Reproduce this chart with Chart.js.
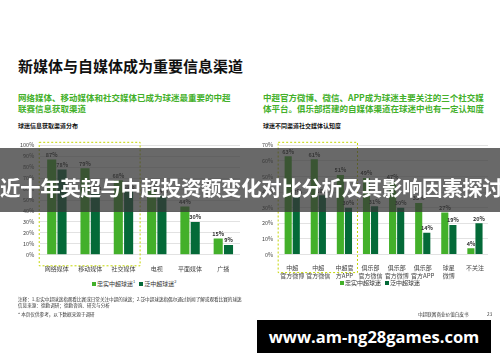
<!DOCTYPE html>
<html>
<head>
<meta charset="utf-8">
<script src="https://cdn.jsdelivr.net/npm/chart.js@4/dist/chart.umd.min.js"></script>
<style>
  html, body { margin: 0; padding: 0; background: #fff; }
  body { width: 500px; height: 362px; position: relative; overflow: hidden; font-family: "Noto Sans CJK SC", "Noto Sans", sans-serif; }
  .abs { position: absolute; white-space: nowrap; }
  .title { left: 18px; top: 55px; font-size: 15px; font-weight: bold; color: #111; }
  .sub { font-size: 8.5px; font-weight: bold; color: #43B02A; line-height: 10.5px; }
  .ctitle { font-size: 6px; font-weight: bold; color: #111; }
  .legend { font-size: 6px; color: #333; }
  .legend i { display: inline-block; width: 4px; height: 4px; margin: 0 1px 1px 4px; vertical-align: middle; }
  .note { font-size: 4.6px; color: #333; line-height: 6px; }
  .banner { left: 0; top: 148px; width: 500px; height: 64px; background: rgba(55,55,55,0.75); }
  .btext { left: 0; top: 172px; width: 500px; text-align: center; font-size: 20.5px; font-weight: bold; color: #fff; letter-spacing: -0.4px; }
  .url { left: 257px; top: 320px; width: 234px; height: 33px; background: #000; color: #fff; font-family: "Open Sans", "DejaVu Sans", sans-serif; font-weight: bold; font-size: 16.5px; text-align: center; line-height: 33px; }
  .wrap { position: absolute; }
</style>
</head>
<body>
<div class="abs title">新媒体与自媒体成为重要信息渠道</div>
<div class="abs sub" style="left:18px;top:92px;">网络媒体、移动媒体和社交媒体已成为球迷最重要的中超<br>联赛信息获取渠道</div>
<div class="abs sub" style="left:263px;top:92px;">中超官方微博、微信、APP成为球迷主要关注的三个社交媒<br>体平台。俱乐部搭建的自媒体渠道在球迷中也有一定认知度</div>
<div class="abs ctitle" style="left:18px;top:121px;">球迷信息获取渠道分布</div>
<div class="abs ctitle" style="left:263px;top:121px;">球迷不同渠道社交媒体认知度</div>

<div class="wrap" style="left:14px;top:136px;width:230px;height:138px;"><canvas id="chartL"></canvas></div>
<div class="wrap" style="left:256px;top:136px;width:236px;height:145px;"><canvas id="chartR"></canvas></div>

<div class="abs legend" style="left:88px;top:278px;"><i style="background:#43B02A"></i>忠实中超球迷<sup style="font-size:4px">1</sup><i style="background:#046A38"></i>泛中超球迷<sup style="font-size:4px">2</sup></div>
<div class="abs legend" style="left:336px;top:278px;"><i style="background:#43B02A"></i>忠实中超球迷<i style="background:#046A38"></i>泛中超球迷</div>

<div class="abs note" style="left:18px;top:296px;">注释：1.忠实中超球迷指观看比赛或日常关注中超的球迷；2.泛中超球迷指偶尔通过新闻了解或观看比赛的球迷<br>信息来源：德勤调研；德勤咨询、研究与分析</div>
<div class="abs note" style="left:18px;top:311px;">* 本页仅供参考，以下数据来源于调研</div>
<div class="abs note" style="left:418px;top:311px;">中超联赛商业价值白皮书</div>
<div class="abs note" style="left:487px;top:311px;">23</div>

<div class="abs banner"></div>
<div class="abs btext">近十年英超与中超投资额变化对比分析及其影响因素探讨</div>
<div class="abs url">www.am-ng28games.com</div>

<script>
const LIGHT = '#43B02A';
const DARK = '#046A38';

// left chart: 球迷信息获取渠道分布
const leftCategories = ['网络媒体', '移动媒体', '社交媒体', '电视', '平面媒体', '广播'];
const leftLoyal = [87, 79, 68, 59, 44, 15];
const leftCasual = [78, 57, 58, 54, 30, 9];
const leftTicks = [0, 10, 20, 30, 40, 50, 60, 70, 80, 90, 100];

// right chart: 球迷不同渠道社交媒体认知度
const rightCategories = [['中超', '官方微博'], ['中超', '官方微信'], ['中超官', '方APP'], ['俱乐部', '官方微信'], ['俱乐部', '官方微博'], ['俱乐部', '官方APP'], ['球星', '微博'], '不关注'];
const rightLoyal = [63, 61, 51, 49, 47, 33, 27, 4];
const rightCasual = [37, 38, 30, 31, 30, 14, 19, 20];
const rightTicks = [0, 10, 20, 30, 40, 50, 60, 70];

const FONT = '"Noto Sans CJK SC", "Noto Sans", sans-serif';

// value labels above each bar
const valueLabels = {
  id: 'valueLabels',
  afterDatasetsDraw(chart) {
    const ctx = chart.ctx;
    ctx.save();
    ctx.font = 'bold 5.5px ' + FONT;
    ctx.fillStyle = '#333';
    ctx.textAlign = 'center';
    ctx.textBaseline = 'bottom';
    chart.data.datasets.forEach((ds, i) => {
      chart.getDatasetMeta(i).data.forEach((bar, j) => {
        ctx.fillText(ds.data[j] + '%', bar.x, bar.y - 2);
      });
    });
    ctx.restore();
  }
};

// dashed highlight box around the first three categories
const highlightBox = {
  id: 'highlightBox',
  afterDraw(chart, args, opts) {
    const x = chart.scales.x;
    const area = chart.chartArea;
    const half = (x.getPixelForValue(1) - x.getPixelForValue(0)) / 2;
    const left = x.getPixelForValue(0) - half - 1;
    const right = x.getPixelForValue(opts.last) + half;
    const ctx = chart.ctx;
    ctx.save();
    ctx.strokeStyle = '#C4D600';
    ctx.lineWidth = 1;
    ctx.setLineDash([2, 2]);
    ctx.strokeRect(left, area.top - 3, right - left, area.bottom - area.top + opts.below);
    ctx.restore();
  }
};

function makeChart(id, labels, loyal, casual, ticks, below) {
  const maxV = ticks[ticks.length - 1];
  return new Chart(document.getElementById(id), {
    type: 'bar',
    data: {
      labels,
      datasets: [
        { label: '忠实中超球迷', data: loyal, backgroundColor: LIGHT, categoryPercentage: 0.62, barPercentage: 0.88 },
        { label: '泛中超球迷', data: casual, backgroundColor: DARK, categoryPercentage: 0.62, barPercentage: 0.88 }
      ]
    },
    options: {
      responsive: true, maintainAspectRatio: false, animation: false,
      layout: { padding: { top: 6, right: 4 } },
      scales: {
        x: {
          grid: { display: false },
          border: { display: false },
          ticks: { font: { size: 6, family: FONT }, color: '#444', maxRotation: 0, autoSkip: false, padding: 2 }
        },
        y: {
          min: 0, max: maxV,
          afterBuildTicks: axis => { axis.ticks = ticks.map(v => ({ value: v })); },
          grid: { color: '#e2e2e2', drawTicks: false },
          border: { display: false },
          ticks: { font: { size: 5.5, family: FONT }, color: '#444', padding: 6, callback: v => v + '%' }
        }
      },
      plugins: {
        legend: { display: false },
        tooltip: { enabled: false },
        highlightBox: { last: 2, below: below }
      }
    },
    plugins: [valueLabels, highlightBox]
  });
}

makeChart('chartL', leftCategories, leftLoyal, leftCasual, leftTicks, 14);
makeChart('chartR', rightCategories, rightLoyal, rightCasual, rightTicks, 21);
</script>
</body>
</html>
